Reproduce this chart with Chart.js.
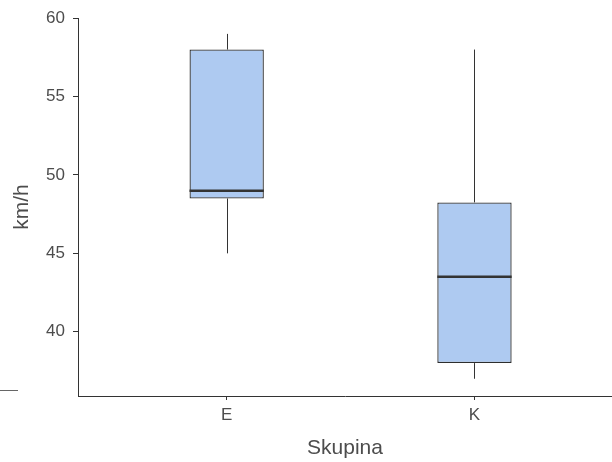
<!DOCTYPE html>
<html>
<head>
<meta charset="utf-8">
<script src="https://cdn.jsdelivr.net/npm/chart.js@4/dist/chart.umd.min.js"></script>
<style>
  html, body { margin: 0; padding: 0; background: #fff; }
  #wrap { width: 612px; height: 462px; }
</style>
</head>
<body>
<div id="wrap"><canvas id="chart"></canvas></div>
<script>
// speed per group (km/h)
const groups = ['E', 'K'];
const whiskerLow = [45, 37];
const q1 = [48.5, 38];
const median = [49, 43.5];
const q3 = [58, 48.25];
const whiskerHigh = [59, 58];
const yTicks = [40, 45, 50, 55, 60];

const lineColor = '#333333';
const textColor = '#4d4d4d';
const font = 'Liberation Sans, Arial, sans-serif';

// whiskers + median lines on top of the box bars
const boxLines = {
    id: 'boxLines',
    afterDatasetsDraw(chart) {
        const ctx = chart.ctx;
        const xs = chart.scales.x;
        const ys = chart.scales.y;
        const meta = chart.getDatasetMeta(0);
        ctx.save();
        ctx.strokeStyle = lineColor;
        groups.forEach((g, i) => {
            const bar = meta.data[i];
            const cx = Math.round(xs.getPixelForValue(i)) + 0.5;
            ctx.lineWidth = 1;
            ctx.beginPath();
            ctx.moveTo(cx, ys.getPixelForValue(q3[i]));
            ctx.lineTo(cx, ys.getPixelForValue(whiskerHigh[i]));
            ctx.moveTo(cx, ys.getPixelForValue(q1[i]));
            ctx.lineTo(cx, ys.getPixelForValue(whiskerLow[i]));
            ctx.stroke();

            const half = bar.width / 2;
            const my = ys.getPixelForValue(median[i]);
            ctx.lineWidth = 2.5;
            ctx.beginPath();
            ctx.moveTo(bar.x - half, my);
            ctx.lineTo(bar.x + half, my);
            ctx.stroke();
        });
        // short rule at the far left edge
        ctx.strokeStyle = '#666';
        ctx.lineWidth = 1;
        ctx.beginPath();
        ctx.moveTo(0, 390.5);
        ctx.lineTo(18, 390.5);
        ctx.stroke();
        ctx.restore();
    }
};

new Chart(document.getElementById('chart'), {
    type: 'bar',
    data: {
        datasets: [{
            data: groups.map((g, i) => ({ x: i, y: [q1[i], q3[i]] })),
            backgroundColor: '#aecaf1',
            borderColor: '#2e2e2e',
            borderWidth: 1.3,
            borderSkipped: false,
            barPercentage: 0.3,
            categoryPercentage: 1
        }]
    },
    options: {
        responsive: true,
        maintainAspectRatio: false,
        animation: false,
        layout: { padding: { top: 17, right: 0, bottom: 0, left: 0 } },
        plugins: {
            legend: { display: false },
            tooltip: { enabled: false }
        },
        scales: {
            x: {
                type: 'linear',
                offset: false,
                min: -0.6,
                max: 1.555,
                afterBuildTicks: s => { s.ticks = groups.map((g, i) => ({ value: i })); },
                afterFit: s => { s.height = 66; },
                ticks: {
                    callback: v => groups[v],
                    color: textColor,
                    font: { family: font, size: 17 },
                    padding: 5,
                    maxRotation: 0
                },
                grid: { offset: false, drawOnChartArea: false, drawTicks: true, tickLength: 4, color: lineColor },
                border: { display: true, color: lineColor, width: 1 },
                title: {
                    display: true,
                    text: 'Skupina',
                    color: textColor,
                    font: { family: font, size: 21 },
                    padding: { top: 0, bottom: 1 }
                }
            },
            y: {
                min: 35.9,
                max: 60,
                afterBuildTicks: s => { s.ticks = yTicks.map(v => ({ value: v })); },
                afterFit: s => { s.width = 78; },
                ticks: {
                    color: textColor,
                    font: { family: font, size: 17 },
                    padding: 8
                },
                grid: { drawOnChartArea: false, drawTicks: true, tickLength: 5, color: lineColor },
                border: { display: true, color: lineColor, width: 1 },
                title: {
                    display: true,
                    text: 'km/h',
                    color: textColor,
                    font: { family: font, size: 21 },
                    padding: { top: 10, bottom: 0 }
                }
            }
        }
    },
    plugins: [boxLines]
});
</script>
</body>
</html>
